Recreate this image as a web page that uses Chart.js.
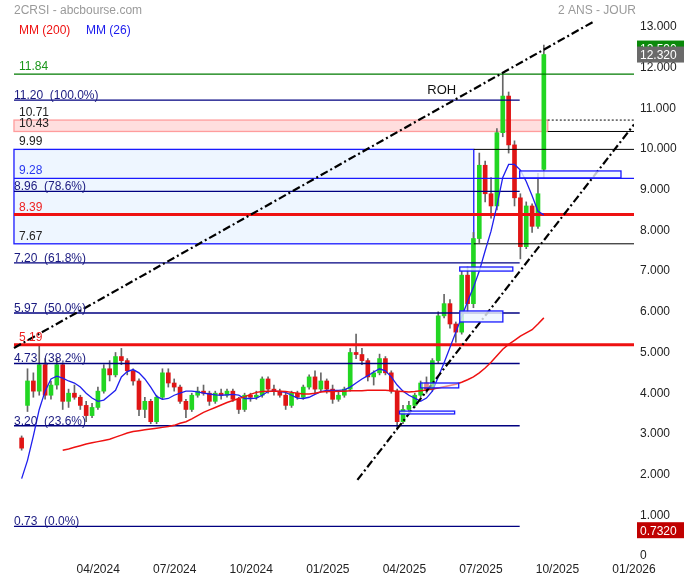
<!DOCTYPE html>
<html>
<head>
<meta charset="utf-8">
<title>2CRSI - abcbourse.com</title>
<script src="https://cdn.jsdelivr.net/npm/chart.js@4.4.1/dist/chart.umd.min.js"></script>
<style>
  html, body { margin: 0; padding: 0; background: #fff; }
  #wrap { position: relative; width: 684px; height: 580px; }
</style>
</head>
<body>
<div id="wrap"><canvas id="chart"></canvas></div>
<script>
// Weekly candles, first one is the first week of 01/2024
const opens = [
  2.9, 3.7, 4.3, 4.05, 4.7, 3.95, 4.2, 4.7, 3.8, 4.0,
  3.9, 3.7, 3.45, 3.65, 4.05, 4.6, 4.45, 4.9, 4.8, 4.55,
  4.3, 3.6, 3.8, 3.3, 3.9, 4.5, 4.25, 4.15, 3.8, 3.6,
  3.95, 4.05, 4.0, 3.8, 4.0, 3.95, 4.05, 3.85, 3.6, 3.95,
  3.9, 3.95, 4.35, 4.1, 4.05, 3.95, 3.7, 4.0, 3.9, 4.15,
  4.4, 4.1, 4.3, 4.1, 3.85, 3.95, 4.1, 5.0, 4.95, 4.8,
  4.4, 4.5, 4.85, 4.5, 4.05, 3.3, 3.6, 3.7, 3.95, 4.25,
  4.1, 4.8, 5.9, 6.2, 5.7, 5.5, 6.9, 6.2, 7.8, 9.6,
  8.9, 8.6, 10.4, 11.3, 10.1, 8.8, 7.6, 8.6, 8.1, 9.5
];
const highs = [
  2.95, 4.6, 4.5, 5.19, 4.85, 4.3, 4.85, 4.75, 4.1, 4.2,
  3.95, 3.8, 3.75, 4.15, 4.7, 4.8, 5.0, 5.1, 4.85, 4.6,
  4.35, 3.9, 3.85, 3.95, 4.6, 4.6, 4.35, 4.2, 3.85, 4.0,
  4.15, 4.2, 4.05, 4.05, 4.1, 4.1, 4.1, 3.9, 4.0, 4.0,
  4.05, 4.4, 4.4, 4.2, 4.1, 4.0, 4.05, 4.05, 4.2, 4.45,
  4.55, 4.5, 4.35, 4.2, 4.05, 4.15, 5.1, 5.45, 5.1, 4.85,
  4.55, 4.96, 4.9, 4.55, 4.1, 3.7, 3.8, 4.0, 4.3, 4.4,
  4.85, 6.0, 6.43, 6.3, 5.75, 7.0, 7.1, 7.95, 9.9, 9.7,
  9.3, 10.5, 11.84, 11.4, 10.2, 8.9, 8.7, 8.65, 9.4, 12.55
];
const lows = [
  2.6, 3.55, 3.9, 3.95, 3.85, 3.85, 4.1, 3.6, 3.65, 3.85,
  3.6, 3.3, 3.4, 3.6, 4.0, 4.3, 4.4, 4.7, 4.45, 4.2,
  3.45, 3.4, 3.25, 3.25, 3.85, 4.15, 4.05, 3.75, 3.4, 3.55,
  3.9, 3.95, 3.7, 3.75, 3.85, 3.9, 3.8, 3.5, 3.55, 3.8,
  3.85, 3.9, 4.0, 3.95, 3.9, 3.6, 3.65, 3.85, 3.85, 4.1,
  4.0, 4.05, 4.0, 3.75, 3.8, 3.9, 4.05, 4.85, 4.7, 4.3,
  4.2, 4.45, 4.45, 4.0, 3.1, 3.25, 3.5, 3.65, 3.9, 4.0,
  4.05, 4.75, 5.85, 5.6, 5.25, 5.45, 6.0, 6.1, 7.7, 8.7,
  8.3, 8.5, 10.3, 9.9, 8.6, 7.3, 7.55, 7.95, 8.05, 9.3
];
const closes = [
  2.65, 4.3, 4.05, 4.7, 3.95, 4.2, 4.7, 3.8, 4.0, 3.9,
  3.7, 3.45, 3.65, 4.05, 4.6, 4.45, 4.9, 4.8, 4.55, 4.3,
  3.6, 3.8, 3.3, 3.9, 4.5, 4.25, 4.15, 3.8, 3.6, 3.95,
  4.05, 4.0, 3.8, 4.0, 3.95, 4.05, 3.85, 3.6, 3.95, 3.9,
  3.95, 4.35, 4.1, 4.05, 3.95, 3.7, 4.0, 3.9, 4.15, 4.4,
  4.1, 4.3, 4.1, 3.85, 3.95, 4.1, 5.0, 4.95, 4.8, 4.4,
  4.5, 4.85, 4.5, 4.05, 3.3, 3.6, 3.7, 3.95, 4.25, 4.1,
  4.8, 5.9, 6.2, 5.7, 5.5, 6.9, 6.2, 7.8, 9.6, 8.9,
  8.6, 10.4, 11.3, 10.1, 8.8, 7.6, 8.6, 8.1, 8.9, 12.32
];

// MM (26), one value per candle
const ma26 = [
  1.9, 2.35, 2.95, 3.6, 4.05, 4.35, 4.42, 4.37, 4.3, 4.25,
  4.15, 4.0, 3.88, 3.8, 3.83, 3.95, 4.07, 4.4, 4.53, 4.58,
  4.5, 4.35, 4.15, 3.92, 3.85, 3.87, 3.95, 4.0, 4.05, 4.05,
  4.03, 4.0, 3.98, 3.96, 3.95, 3.96, 3.97, 3.95, 3.87, 3.87,
  3.88, 3.95, 4.04, 4.05, 4.04, 4.02, 3.95, 3.88, 3.87, 3.9,
  3.97, 4.04, 4.07, 4.07, 4.07, 4.08, 4.15, 4.25, 4.35, 4.43,
  4.52, 4.6, 4.55, 4.4, 4.2, 4.05, 3.95, 3.88, 3.8, 3.88,
  4.05, 4.4, 4.75, 5.12, 5.5, 5.87, 6.25, 6.6, 7.0, 7.5,
  7.98, 8.6, 9.3, 9.62, 9.62, 9.48, 9.2, 8.85, 8.47, 8.38
];
// MM (200), one value per candle
const ma200 = [
  null, null, null, null, null, null, null, 2.6, 2.63, 2.67,
  2.71, 2.75, 2.78, 2.81, 2.84, 2.87, 2.92, 2.97, 3.02, 3.06,
  3.08, 3.1, 3.12, 3.14, 3.16, 3.18, 3.21, 3.26, 3.3, 3.37,
  3.45, 3.53, 3.59, 3.65, 3.71, 3.77, 3.82, 3.87, 3.91, 3.97,
  4.02, 4.04, 4.05, 4.05, 4.05, 4.04, 4.02, 4.0, 3.98, 3.98,
  4.0, 4.03, 4.04, 4.04, 4.05, 4.05, 4.06, 4.06, 4.06, 4.07,
  4.07, 4.07, 4.07, 4.06, 4.05, 4.04, 4.03, 4.04, 4.06, 4.08,
  4.1, 4.13, 4.16, 4.19, 4.22, 4.27, 4.33, 4.4, 4.5, 4.62,
  4.76, 4.92, 5.08, 5.2, 5.3, 5.4, 5.48, 5.56, 5.7, 5.85
];

const xTickLabels = ['04/2024', '07/2024', '10/2024', '01/2025', '04/2025', '07/2025', '10/2025', '01/2026'];
const xTickMonths = [3, 6, 9, 12, 15, 18, 21, 24];
const yTicks = [0, 1, 2, 3, 4, 5, 6, 7, 8, 9, 10, 11, 12, 13];

const fibValues = [11.20, 8.96, 7.20, 5.97, 4.73, 3.20, 0.73];
const fibPercents = ['100.0%', '78.6%', '61.8%', '50.0%', '38.2%', '23.6%', '0.0%'];
const levelValues = [11.84, 10.71, 10.43, 9.99, 9.28, 8.39, 7.67, 5.19];
const trendUpper = [5.11, 13.12];
const trendLower = [1.87, 10.6];
const lastPrice = 12.32, dayHigh = 12.59, lowestPrice = 0.732;

// ---- layout (x in months from 01/2024) ----
const weekStep = 7 / 30.44;
const candleX = opens.map((_, i) => i * weekStep);
const X0 = -0.30, XEND = 24, XFIB = 19.52, XZONE = 17.72, XBAND = 20.62;
const FONT = "'Liberation Sans', Arial, sans-serif";

const levelStyle = [
  { x0: X0, x1: XEND, color: '#007a00', text: '#1a961a', w: 1.2 },
  { x0: XBAND, x1: XEND, color: '#000', text: '#222', w: 1, dash: [2, 2] },
  { x0: XBAND, x1: XEND, color: '#000', text: '#222', w: 1 },
  { x0: XZONE, x1: XEND, color: '#000', text: '#222', w: 1 },
  { x0: X0, x1: XEND, color: '#1a1aff', text: '#2a3af0', w: 1.2 },
  { x0: X0, x1: XEND, color: '#ee1111', text: '#ee2222', w: 3 },
  { x0: XZONE, x1: XEND, color: '#000', text: '#222', w: 1 },
  { x0: X0, x1: XEND, color: '#ee1111', text: '#ee2222', w: 3 }
];

function hline(v, x0, x1, color, width, dash) {
  return {
    type: 'line', data: [{ x: x0, y: v }, { x: x1, y: v }],
    borderColor: color, borderWidth: width, borderDash: dash || [],
    pointRadius: 0, fill: false, order: 2
  };
}

const datasets = [];
datasets.push({
  type: 'bar', data: candleX.map((x, i) => ({ x, y: [lows[i], highs[i]] })),
  backgroundColor: '#666', barThickness: 1, grouped: false, order: 10
});
datasets.push({
  type: 'bar', data: candleX.map((x, i) => ({ x, y: [opens[i], closes[i]] })),
  backgroundColor: closes.map((c, i) => c >= opens[i] ? '#22d622' : '#e01515'),
  barThickness: 4, grouped: false, order: 9
});
fibValues.forEach(v => datasets.push(hline(v, X0, XFIB, '#000080', 1.3)));
levelValues.forEach((v, i) => {
  const s = levelStyle[i];
  datasets.push(hline(v, s.x0, s.x1, s.color, s.w, s.dash));
});
datasets.push({
  type: 'line', data: candleX.map((x, i) => ({ x, y: ma200[i] })),
  borderColor: '#ee1111', borderWidth: 1.5, pointRadius: 0, fill: false, order: 1
});
datasets.push({
  type: 'line', data: candleX.map((x, i) => ({ x, y: ma26[i] })),
  borderColor: '#1f1fee', borderWidth: 1.3, pointRadius: 0, fill: false, order: 1
});
datasets.push({
  type: 'line', data: [{ x: X0, y: trendUpper[0] }, { x: 22.39, y: trendUpper[1] }],
  borderColor: '#000', borderWidth: 2.2, borderDash: [8, 3, 2, 3], pointRadius: 0, fill: false, order: 0
});
datasets.push({
  type: 'line', data: [{ x: 13.16, y: trendLower[0] }, { x: XEND, y: trendLower[1] }],
  borderColor: '#000', borderWidth: 2.2, borderDash: [8, 3, 2, 3], pointRadius: 0, fill: false, order: 0
});

const zones = [
  { x0: X0, x1: XBAND, v0: 10.71, v1: 10.43, fill: '#ffdede', stroke: '#ff9c9c', top: false },
  { x0: X0, x1: XZONE, v0: 9.99, v1: 7.67, fill: '#eef6ff', stroke: '#1a1aff', top: false },
  { x0: 19.52, x1: 23.49, v0: 9.46, v1: 9.29, fill: 'rgba(236,245,255,0.8)', stroke: '#1a1aff', top: true },
  { x0: 17.17, x1: 19.25, v0: 7.1, v1: 7.0, fill: 'rgba(236,245,255,0.8)', stroke: '#1a1aff', top: true },
  { x0: 17.17, x1: 18.86, v0: 6.02, v1: 5.75, fill: 'rgba(236,245,255,0.8)', stroke: '#1a1aff', top: true },
  { x0: 15.64, x1: 17.13, v0: 4.25, v1: 4.13, fill: 'rgba(236,245,255,0.5)', stroke: '#1a1aff', top: true },
  { x0: 14.81, x1: 16.97, v0: 3.56, v1: 3.49, fill: 'rgba(236,245,255,0.8)', stroke: '#1a1aff', top: true }
];

function drawZones(chart, onTop) {
  const { ctx, scales: { x, y } } = chart;
  ctx.save();
  zones.filter(z => z.top === onTop).forEach(z => {
    const l = x.getPixelForValue(z.x0), r = x.getPixelForValue(z.x1);
    const t = y.getPixelForValue(z.v0), b = y.getPixelForValue(z.v1);
    ctx.fillStyle = z.fill;
    ctx.fillRect(l, t, r - l, b - t);
    ctx.strokeStyle = z.stroke;
    ctx.lineWidth = 1.3;
    ctx.strokeRect(l, t, r - l, b - t);
  });
  ctx.restore();
}

function tag(ctx, text, yc, bg) {
  ctx.fillStyle = bg;
  ctx.fillRect(637, yc - 8, 47, 16);
  ctx.fillStyle = '#fff';
  ctx.textAlign = 'left';
  ctx.textBaseline = 'middle';
  ctx.fillText(text, 640, yc + 1);
}

const overlay = {
  id: 'overlay',
  beforeDatasetsDraw(chart) { drawZones(chart, false); },
  afterDatasetsDraw(chart) {
    drawZones(chart, true);
    const { ctx, scales: { x, y } } = chart;
    const left = x.getPixelForValue(X0);
    ctx.save();
    ctx.font = '12px ' + FONT;
    ctx.textAlign = 'left';
    ctx.textBaseline = 'alphabetic';
    fibValues.forEach((v, i) => {
      ctx.fillStyle = '#1a1a80';
      ctx.fillText(v.toFixed(2) + '  (' + fibPercents[i] + ')', left, y.getPixelForValue(v) - 1);
    });
    levelValues.forEach((v, i) => {
      ctx.fillStyle = levelStyle[i].text;
      ctx.fillText(v.toFixed(2), left + 5, y.getPixelForValue(v) - 4);
    });
    ctx.fillStyle = '#111';
    ctx.font = '13px ' + FONT;
    ctx.fillText('ROH', x.getPixelForValue(15.9), y.getPixelForValue(11.36));
    ctx.restore();
  },
  afterDraw(chart) {
    const { ctx, scales: { y } } = chart;
    ctx.save();
    ctx.font = '12px ' + FONT;
    ctx.textBaseline = 'alphabetic';
    ctx.fillStyle = '#9a9a9a';
    ctx.textAlign = 'left';
    ctx.fillText('2CRSI - abcbourse.com', 14, 14);
    ctx.textAlign = 'right';
    ctx.fillText('2 ANS - JOUR', 636, 14);
    ctx.textAlign = 'left';
    ctx.fillStyle = '#ee1111';
    ctx.fillText('MM (200)', 19, 34);
    ctx.fillStyle = '#1a1aee';
    ctx.fillText('MM (26)', 86, 34);
    tag(ctx, dayHigh.toFixed(3), y.getPixelForValue(dayHigh) + 5, '#0a8a0a');
    tag(ctx, lastPrice.toFixed(3), y.getPixelForValue(lastPrice), '#6a6a6a');
    tag(ctx, lowestPrice.toFixed(4), y.getPixelForValue(lowestPrice) + 4, '#c00000');
    ctx.restore();
  }
};

new Chart(document.getElementById('chart'), {
  type: 'bar',
  data: { datasets },
  options: {
    responsive: true,
    maintainAspectRatio: false,
    animation: false,
    layout: { padding: 0 },
    plugins: { legend: { display: false }, tooltip: { enabled: false } },
    scales: {
      x: {
        type: 'linear', min: -0.848, max: XEND, offset: false,
        grid: { display: false, drawTicks: false, offset: false }, border: { display: false },
        afterBuildTicks: s => { s.ticks = xTickMonths.map(v => ({ value: v })); },
        afterFit: s => { s.height = 24; s.paddingLeft = 0; s.paddingRight = 0; },
        ticks: {
          callback: (v, i) => xTickLabels[i], autoSkip: false, maxRotation: 0,
          color: '#222', padding: 6, font: { family: FONT, size: 12 }
        }
      },
      y: {
        type: 'linear', position: 'right', min: 0, max: 13.66,
        grid: { display: false, drawTicks: false }, border: { display: false },
        afterBuildTicks: s => { s.ticks = yTicks.map(v => ({ value: v })); },
        afterFit: s => { s.width = 50; s.paddingTop = 0; s.paddingBottom = 0; },
        ticks: {
          callback: v => v === 0 ? '0' : v.toFixed(3), autoSkip: false,
          color: '#222', padding: 6, font: { family: FONT, size: 12 }
        }
      }
    }
  },
  plugins: [overlay]
});
</script>
</body>
</html>
